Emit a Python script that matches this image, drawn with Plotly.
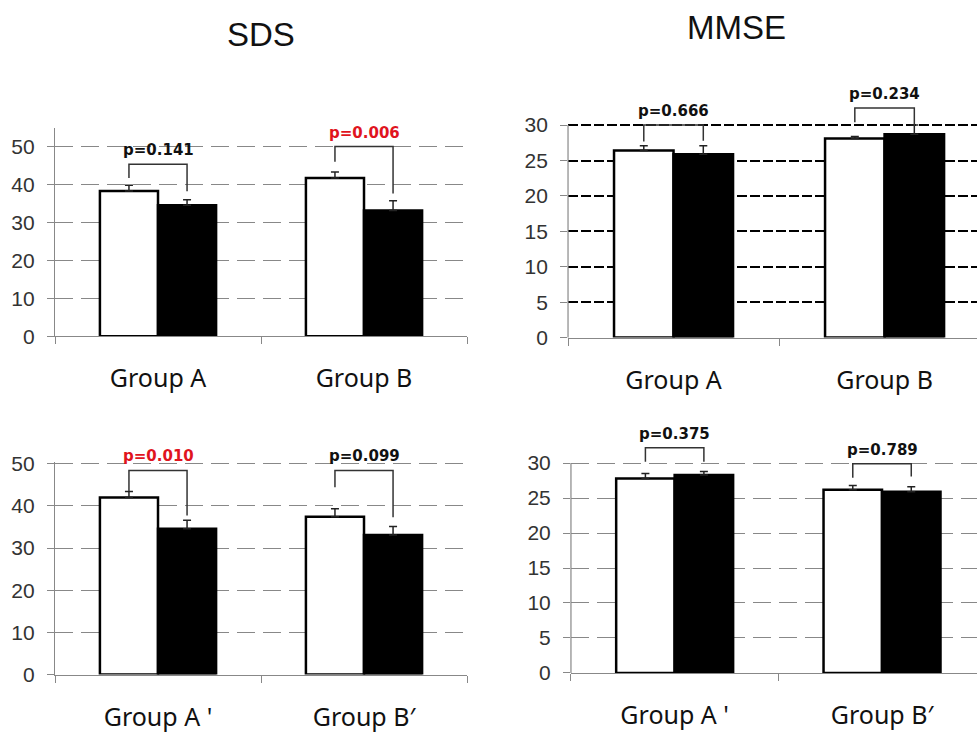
import plotly.graph_objects as go

# ---------------- data ----------------
categories_top = ["Group A", "Group B"]
categories_bottom = ["Group A '", "Group B′"]

# SDS (top-left)
sds1_white = [38.3, 41.7]
sds1_white_err = [1.5, 1.6]
sds1_black = [34.5, 33.1]
sds1_black_err = [1.5, 2.6]
sds1_bracket = [45.3, 50.0]
sds1_left_end = [41.7, 46.0]
sds1_right_end = [38.2, 37.6]
sds1_p = ["p=0.141", "p=0.006"]
sds1_sig = [False, True]

# MMSE (top-right)
mmse1_white = [26.4, 28.1]
mmse1_white_err = [0.7, 0.3]
mmse1_black = [25.9, 28.7]
mmse1_black_err = [1.2, 1.3]
mmse1_bracket = [30.0, 32.4]
mmse1_left_end = [27.7, 30.4]
mmse1_right_end = [27.8, 29.9]
mmse1_p = ["p=0.666", "p=0.234"]
mmse1_sig = [False, False]

# SDS (bottom-left)
sds2_white = [42.0, 37.4]
sds2_white_err = [1.4, 1.9]
sds2_black = [34.6, 33.1]
sds2_black_err = [2.0, 2.0]
sds2_bracket = [48.4, 48.4]
sds2_left_end = [43.5, 44.4]
sds2_right_end = [37.7, 37.3]
sds2_p = ["p=0.010", "p=0.099"]
sds2_sig = [True, False]

# MMSE (bottom-right)
mmse2_white = [27.8, 26.2]
mmse2_white_err = [0.7, 0.6]
mmse2_black = [28.3, 25.9]
mmse2_black_err = [0.5, 0.7]
mmse2_bracket = [32.2, 29.9]
mmse2_left_end = [30.2, 27.9]
mmse2_right_end = [30.2, 28.1]
mmse2_p = ["p=0.375", "p=0.789"]
mmse2_sig = [False, False]

sds_ticks = [0, 10, 20, 30, 40, 50]
mmse_ticks = [0, 5, 10, 15, 20, 25, 30]
titles = ["SDS", "MMSE"]

# ---------------- layout config ----------------
BARGAP = 0.436
HALF = (1 - BARGAP) / 4.0  # offset of each bar center from category center

GREY = "#888888"
panels = [
    dict(ax="", cats=categories_top, w=sds1_white, we=sds1_white_err, b=sds1_black, be=sds1_black_err,
         br=sds1_bracket, le=sds1_left_end, re=sds1_right_end, p=sds1_p, sig=sds1_sig,
         xdom=[0.0563, 0.478], ydom=[0.5475, 0.836], yr=[0, 55], xr=[-0.5, 1.5], ticks=sds_ticks,
         grid=dict(color=GREY, dash="18px,8px", width=1), fullline=True),
    dict(ax="2", cats=categories_top, w=mmse1_white, we=mmse1_white_err, b=mmse1_black, be=mmse1_black_err,
         br=mmse1_bracket, le=mmse1_left_end, re=mmse1_right_end, p=mmse1_p, sig=mmse1_sig,
         xdom=[0.5814, 1.0], ydom=[0.5455, 0.8884], yr=[0, 35], xr=[-0.5, 1.438], ticks=mmse_ticks,
         grid=dict(color="#000000", dash="10px,3px", width=2), fullline=False),
    dict(ax="3", cats=categories_bottom, w=sds2_white, we=sds2_white_err, b=sds2_black, be=sds2_black_err,
         br=sds2_bracket, le=sds2_left_end, re=sds2_right_end, p=sds2_p, sig=sds2_sig,
         xdom=[0.0563, 0.478], ydom=[0.0794, 0.374], yr=[0, 50.5], xr=[-0.5, 1.5], ticks=sds_ticks,
         grid=dict(color=GREY, dash="18px,8px", width=1), fullline=True),
    dict(ax="4", cats=categories_bottom, w=mmse2_white, we=mmse2_white_err, b=mmse2_black, be=mmse2_black_err,
         br=mmse2_bracket, le=mmse2_left_end, re=mmse2_right_end, p=mmse2_p, sig=mmse2_sig,
         xdom=[0.5844, 1.0], ydom=[0.0817, 0.4203], yr=[0, 35], xr=[-0.5, 1.458], ticks=mmse_ticks,
         grid=dict(color=GREY, dash="18px,8px", width=1), fullline=False),
]

fig = go.Figure()
shapes = []
annotations = []
layout_axes = {}

for pn in panels:
    a = pn["ax"]
    xa, ya = "x" + a, "y" + a
    for vals, errs, fill in ((pn["w"], pn["we"], "white"), (pn["b"], pn["be"], "black")):
        fig.add_trace(go.Bar(
            x=pn["cats"], y=vals, xaxis=xa, yaxis=ya,
            marker=dict(color=fill, line=dict(color="black", width=2.5)),
            error_y=dict(type="data", symmetric=False, array=errs, arrayminus=[0] * len(errs),
                         color="#222222", thickness=1.5, width=4),
            showlegend=False, hoverinfo="skip",
        ))
    # significance brackets
    for i in range(len(pn["cats"])):
        xl, xr_ = i - HALF, i + HALF
        path = "M {xl},{le} L {xl},{br} L {xr},{br} L {xr},{re}".format(
            xl=xl, xr=xr_, le=pn["le"][i], re=pn["re"][i], br=pn["br"][i])
        shapes.append(dict(type="path", path=path, xref=xa, yref=ya,
                           line=dict(color="#333333", width=1.5), layer="above"))
        annotations.append(dict(
            x=i, y=pn["br"][i], xref=xa, yref=ya, text=pn["p"][i], showarrow=False,
            yanchor="bottom", xanchor="center", yshift=3,
            font=dict(family="DejaVu Sans", size=15, weight="bold",
                      color="#e0141e" if pn["sig"][i] else "#111111")))
    if not pn["fullline"]:
        # y-axis line only spans the labelled tick range (0 .. last tick)
        y0d, y1d = pn["ydom"]
        frac = pn["ticks"][-1] / (pn["yr"][1] - pn["yr"][0])
        shapes.append(dict(type="line", xref="paper", yref="paper",
                           x0=pn["xdom"][0], x1=pn["xdom"][0],
                           y0=y0d, y1=y0d + (y1d - y0d) * frac,
                           line=dict(color=GREY, width=1.2), layer="above"))
    layout_axes["xaxis" + a] = dict(
        domain=pn["xdom"], anchor=ya, type="category", range=pn["xr"],
        showline=True, linecolor=GREY, linewidth=1.2,
        ticks="outside", tickson="boundaries", ticklen=7, tickcolor=GREY, tickwidth=1.2,
        showgrid=False, ticklabelstandoff=20,
        tickfont=dict(family="Noto Sans", size=25, color="#111111"),
        fixedrange=True,
    )
    layout_axes["yaxis" + a] = dict(
        domain=pn["ydom"], anchor=xa, range=pn["yr"], tickvals=pn["ticks"],
        showline=pn["fullline"], linecolor=GREY, linewidth=1.2,
        ticks="outside", ticklen=7, tickcolor=GREY, tickwidth=1.2,
        showgrid=True, gridcolor=pn["grid"]["color"], griddash=pn["grid"]["dash"],
        gridwidth=pn["grid"]["width"], zeroline=False, ticklabelstandoff=8,
        tickfont=dict(family="Liberation Sans", size=21, color="#333333"),
        fixedrange=True,
    )

annotations.append(dict(x=0.267, y=1 - 26 / 743, xref="paper", yref="paper", text=titles[0],
                        showarrow=False, yanchor="middle", xanchor="center",
                        font=dict(family="Liberation Sans", size=33, color="#111111")))
annotations.append(dict(x=0.754, y=1 - 19 / 743, xref="paper", yref="paper", text=titles[1],
                        showarrow=False, yanchor="middle", xanchor="center",
                        font=dict(family="Liberation Sans", size=33, color="#111111")))

fig.update_layout(
    width=977, height=743,
    margin=dict(l=0, r=0, t=0, b=0),
    paper_bgcolor="white", plot_bgcolor="white",
    barmode="group", bargap=BARGAP, bargroupgap=0,
    shapes=shapes, annotations=annotations,
    showlegend=False,
    **layout_axes,
)

fig.write_html("out.html", config={"displayModeBar": False},
               post_script="document.body.style.margin='0';")
